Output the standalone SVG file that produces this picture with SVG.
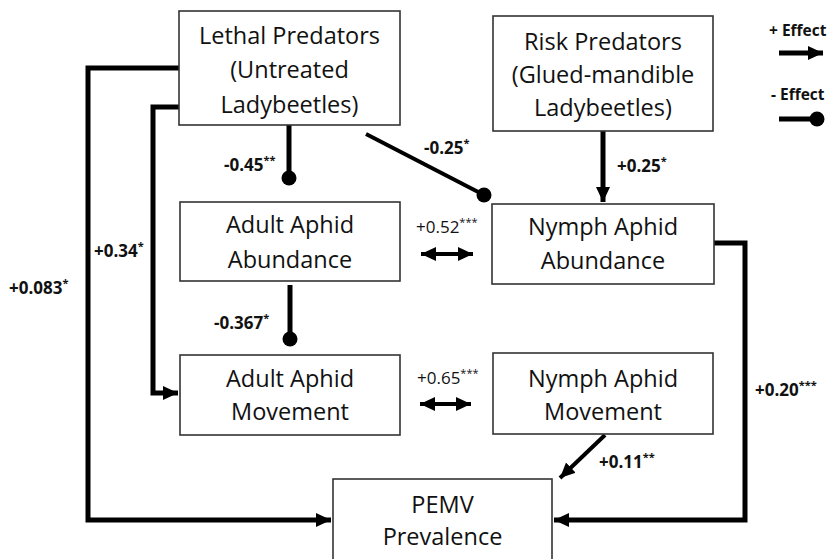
<svg xmlns="http://www.w3.org/2000/svg" width="833" height="559" viewBox="0 0 833 559">
<style>
.box{fill:#fff;stroke:#333;stroke-width:1.6}
.nt{font-family:"Open Sans","Noto Sans",sans-serif;font-size:23.5px;fill:#111;text-anchor:middle}
.c{fill:none;stroke:#000;stroke-width:5}
.c2{fill:none;stroke:#000;stroke-width:4}
.lb{font-family:"Open Sans","Noto Sans",sans-serif;font-size:17px;font-weight:bold;fill:#111}
.ln{font-family:"Open Sans","Noto Sans",sans-serif;font-size:17px;fill:#111}
.lg{font-family:"Open Sans","Noto Sans",sans-serif;font-size:15.5px;font-weight:bold;fill:#111}
.sup{font-size:11px}
.dot{fill:#000}
</style>
<defs>
<marker id="ah" markerUnits="userSpaceOnUse" markerWidth="16" markerHeight="16" viewBox="0 0 16 16" refX="15" refY="8" orient="auto">
<path d="M0,1 L15,8 L0,15 Z" fill="#000"/>
</marker>
<marker id="ah2" markerUnits="userSpaceOnUse" markerWidth="16" markerHeight="16" viewBox="0 0 16 16" refX="15" refY="8" orient="auto-start-reverse">
<path d="M0,1 L15,8 L0,15 Z" fill="#000"/>
</marker>
</defs>
<g id="connectors">
<path class="c" d="M179,68 H88 V520 H331" marker-end="url(#ah)"/>
<path class="c" d="M179,107 H153 V393 H178" marker-end="url(#ah)"/>
<path class="c" d="M289,125 V178"/>
<circle class="dot" cx="289" cy="178" r="7.5"/>
<path class="c2" d="M366,134 L484,195"/>
<circle class="dot" cx="484" cy="195" r="7.5"/>
<path class="c" d="M603,131 V202" marker-end="url(#ah)"/>
<path class="c2" d="M421,254 H473" marker-start="url(#ah2)" marker-end="url(#ah2)"/>
<path class="c" d="M290,285 V338"/>
<circle class="dot" cx="290" cy="339" r="7.5"/>
<path class="c2" d="M420,404 H471" marker-start="url(#ah2)" marker-end="url(#ah2)"/>
<path class="c2" d="M605,435 L560,478" marker-end="url(#ah)"/>
<path class="c" d="M714,243 H745 V520 H554" marker-end="url(#ah)"/>
<path class="c" d="M779,53 H823" marker-end="url(#ah)"/>
<path class="c" d="M779,119 H815"/>
<circle class="dot" cx="817" cy="119" r="7.5"/>
</g>
<g id="lethal">
<rect class="box" x="179" y="11" width="221" height="114"/>
<text class="nt" x="289.5" y="44">Lethal Predators</text>
<text class="nt" x="289.5" y="78">(Untreated</text>
<text class="nt" x="289.5" y="113">Ladybeetles)</text>
</g>
<g id="risk">
<rect class="box" x="493" y="16" width="220" height="115"/>
<text class="nt" x="603" y="50">Risk Predators</text>
<text class="nt" x="603" y="83">(Glued-mandible</text>
<text class="nt" x="603" y="116">Ladybeetles)</text>
</g>
<g id="adult-abundance">
<rect class="box" x="180" y="202" width="220" height="79"/>
<text class="nt" x="290" y="233">Adult Aphid</text>
<text class="nt" x="290" y="268">Abundance</text>
</g>
<g id="nymph-abundance">
<rect class="box" x="492" y="204" width="222" height="80"/>
<text class="nt" x="603" y="235">Nymph Aphid</text>
<text class="nt" x="603" y="269">Abundance</text>
</g>
<g id="adult-movement">
<rect class="box" x="180" y="355" width="220" height="80"/>
<text class="nt" x="290" y="387">Adult Aphid</text>
<text class="nt" x="290" y="420">Movement</text>
</g>
<g id="nymph-movement">
<rect class="box" x="493" y="353" width="220" height="81"/>
<text class="nt" x="603" y="387">Nymph Aphid</text>
<text class="nt" x="603" y="420">Movement</text>
</g>
<g id="pemv">
<rect class="box" x="333" y="479" width="219" height="90"/>
<text class="nt" x="442.5" y="513">PEMV</text>
<text class="nt" x="442.5" y="545">Prevalence</text>
</g>
<g id="labels">
<text class="lb" x="224" y="171">-0.45<tspan class="sup" dy="-7">**</tspan></text>
<text class="lb" x="424" y="154">-0.25<tspan class="sup" dy="-7">*</tspan></text>
<text class="lb" x="617" y="172">+0.25<tspan class="sup" dy="-7">*</tspan></text>
<text class="ln" x="416" y="233">+0.52<tspan class="sup" dy="-7">***</tspan></text>
<text class="lb" x="94" y="257">+0.34<tspan class="sup" dy="-7">*</tspan></text>
<text class="lb" x="9" y="294">+0.083<tspan class="sup" dy="-7">*</tspan></text>
<text class="lb" x="214" y="329">-0.367<tspan class="sup" dy="-7">*</tspan></text>
<text class="ln" x="417" y="384">+0.65<tspan class="sup" dy="-7">***</tspan></text>
<text class="lb" x="755" y="396">+0.20<tspan class="sup" dy="-7">***</tspan></text>
<text class="lb" x="599" y="468">+0.11<tspan class="sup" dy="-7">**</tspan></text>
</g>
<g id="legend">
<text class="lg" x="769" y="36">+ Effect</text>
<text class="lg" x="771" y="100">- Effect</text>
</g>
</svg>
